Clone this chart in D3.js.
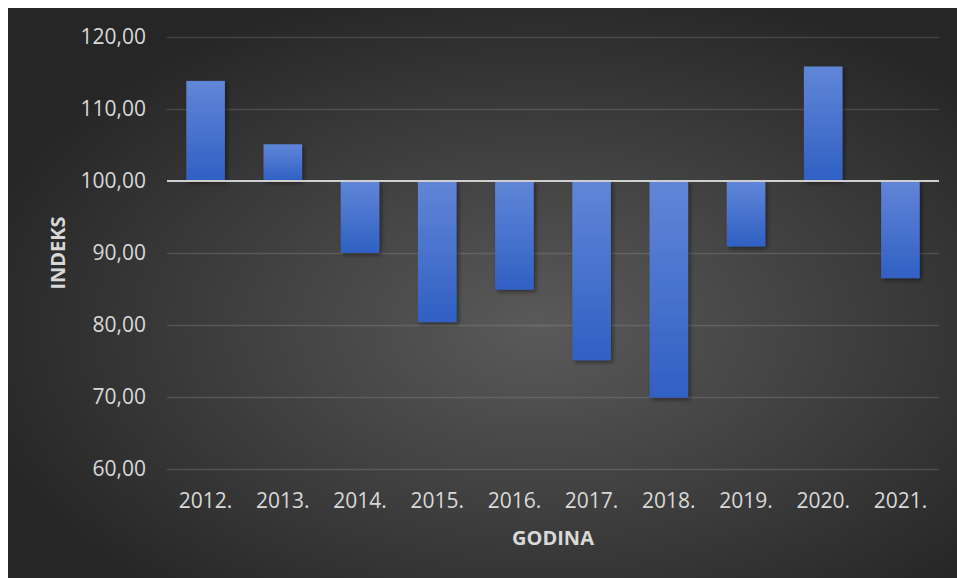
<!DOCTYPE html>
<html><head><meta charset="utf-8">
<script src="https://cdn.jsdelivr.net/npm/d3@7"></script>
<style>body{margin:0;background:#fff}</style>
</head><body><svg id="c" width="957" height="578"></svg>
<script>
const years = ["2012.","2013.","2014.","2015.","2016.","2017.","2018.","2019.","2020.","2021."];
const values = [113.9, 105.1, 90.0, 80.4, 84.9, 75.1, 69.9, 90.9, 115.9, 86.5];
const yTicks = [60, 70, 80, 90, 100, 110, 120];
const baseValue = 100;
const xTitle = "GODINA";
const yTitle = "INDEKS";

(function(){
const svg = d3.select("#c");
const defs = svg.append("defs");
const bg = defs.append("radialGradient").attr("id","bg")
  .attr("cx","0.56").attr("cy","0.56").attr("r","0.62");
bg.append("stop").attr("offset","0").attr("stop-color","#5a5a5a");
bg.append("stop").attr("offset","1").attr("stop-color","#262626");

const bar = defs.append("linearGradient").attr("id","barg")
  .attr("x1","0").attr("y1","0").attr("x2","0").attr("y2","1");
bar.append("stop").attr("offset","0").attr("stop-color","#6086d8");
bar.append("stop").attr("offset","1").attr("stop-color","#3060c3");

const sh = defs.append("filter").attr("id","sh").attr("x","-30%").attr("y","-30%").attr("width","160%").attr("height","160%");
sh.append("feDropShadow").attr("dx",2).attr("dy",2).attr("stdDeviation",2)
  .attr("flood-color","#000").attr("flood-opacity",0.45);

svg.append("rect").attr("x",8).attr("y",8).attr("width",949).attr("height",570).attr("fill","url(#bg)");

const pL = 167, pR = 939, pT = 37, pB = 469;
const x = d3.scaleBand().domain(years).range([pL, pR]).paddingInner(0.5).paddingOuter(0.25);
const y = d3.scaleLinear().domain([d3.min(yTicks), d3.max(yTicks)]).range([pB, pT]);

const font = "'Open Sans', sans-serif";

const grid = svg.append("g").attr("transform",`translate(${pL},0)`)
  .call(d3.axisLeft(y).tickValues(yTicks.filter(t => t !== baseValue)).tickSize(-(pR-pL)).tickFormat(""));
grid.select(".domain").remove();
grid.selectAll("line").attr("stroke","rgba(255,255,255,0.13)").attr("stroke-width",1.5);

const ya = svg.append("g").attr("transform",`translate(${pL},0)`)
  .call(d3.axisLeft(y).tickValues(yTicks).tickSize(0).tickPadding(21)
    .tickFormat(d => d.toFixed(2).replace(".", ",")));
ya.select(".domain").remove();
ya.selectAll("text").attr("fill","#d9d9d9").style("font-family",font).style("font-size","21px");

const xa = svg.append("g").attr("transform",`translate(0,${pB})`)
  .call(d3.axisBottom(x).tickSize(0).tickPadding(24));
xa.select(".domain").remove();
xa.selectAll("text").attr("fill","#d9d9d9").style("font-family",font).style("font-size","21px");

svg.append("g").selectAll("rect").data(values).join("rect")
  .attr("x",(d,i) => x(years[i]))
  .attr("width", x.bandwidth())
  .attr("y", d => Math.min(y(d), y(baseValue)))
  .attr("height", d => Math.abs(y(d) - y(baseValue)))
  .attr("fill","url(#barg)")
  .attr("filter","url(#sh)");

svg.append("line").attr("x1",pL).attr("x2",pR).attr("y1",y(baseValue)).attr("y2",y(baseValue))
  .attr("stroke","#cfcfcf").attr("stroke-width",2);

svg.append("text").attr("x",(pL+pR)/2).attr("y",545).attr("text-anchor","middle")
  .attr("fill","#d9d9d9").style("font-family",font).style("font-size","20px").style("font-weight","bold")
  .text(xTitle);
svg.append("text").attr("transform",`translate(65,${(pT+pB)/2}) rotate(-90)`).attr("text-anchor","middle")
  .attr("fill","#d9d9d9").style("font-family",font).style("font-size","20px").style("font-weight","bold")
  .text(yTitle);
})();
</script></body></html>
